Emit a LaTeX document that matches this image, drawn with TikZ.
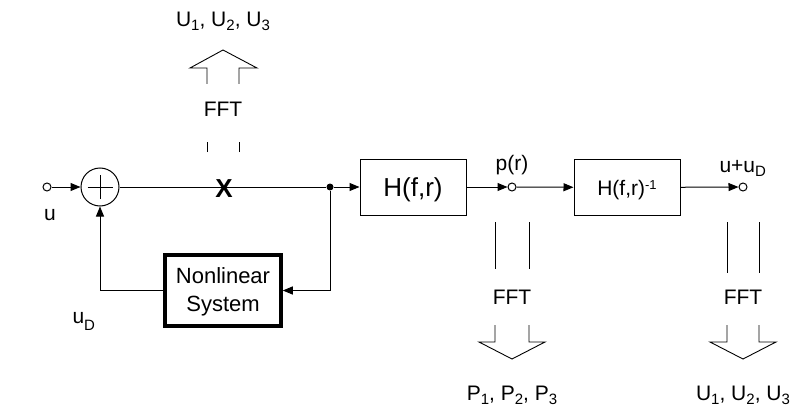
\documentclass[tikz,border=0pt]{standalone}
\usepackage{fontspec}
\setmainfont{Liberation Sans}
\usetikzlibrary{arrows.meta}
\newcommand\lsub[2][5pt]{\raisebox{-#1}{\fontsize{15}{15}\selectfont #2}}
\newcommand\lsup[1]{\raisebox{6pt}{\fontsize{13}{13}\selectfont #1}}
\begin{document}
\begin{tikzpicture}[x=1pt,y=-1pt,
  font=\fontsize{21}{25}\selectfont,
  line width=1pt,
  arr/.style={-{Triangle[length=10pt,width=8pt]}},
  term/.style={circle,draw,fill=white,inner sep=0pt,minimum size=8pt,line width=1pt},
  blk/.style={draw,minimum width=106pt,minimum height=56pt,inner sep=0pt},
  lbl/.style={anchor=base,inner sep=0pt},
  hollow/.style={line width=0.9pt}]
\useasboundingbox (0,0) rectangle (793,412);

% main path nodes
\node[term] (in) at (47,187) {};
\node[circle,draw,minimum size=38pt,inner sep=0pt] (sum) at (100,187) {};
\draw ([xshift=-12.5pt]sum.center) -- ([xshift=12.5pt]sum.center);
\draw ([yshift=-12pt]sum.center) -- ([yshift=12pt]sum.center);
\node[circle,fill,inner sep=0pt,minimum size=7pt] (dot) at (330,187) {};
\node[blk] (h1) at (413,187) {};
\node[lbl,font=\fontsize{26}{30}\selectfont] (h1t) at (413,196) {H(f,r)};
\node[term] (p) at (512,187) {};
\node[blk] (h2) at (627,187.5) {};
\node[lbl,font=\fontsize{21}{25}\selectfont] (h2t) at (627,195) {H(f,r)\lsup{-1}};
\node[term] (out) at (743,187) {};
\node[draw,line width=3.5pt,minimum width=116pt,minimum height=71pt,inner sep=0pt] (nl) at (223,290.5) {};
\node[lbl,font=\fontsize{22}{28}\selectfont] (nlt1) at (223,283) {Nonlinear};
\node[lbl,font=\fontsize{22}{28}\selectfont] (nlt2) at (223,311) {System};

% connectors
\draw[arr] (in) -- (sum);
\draw (sum) -- (dot);
\node[lbl,font=\bfseries\fontsize{26}{30}\selectfont] (x) at (224,197) {X};
\draw[arr] (dot) -- (h1);
\draw[arr] (h1) -- (p);
\draw[arr] (p) -- (h2);
\draw[arr] (h2) -- (out);
\draw[arr] (dot) |- (nl);
\draw[arr] (nl.west) -| (sum.south);

% labels
\node[lbl] (lu) at (50,220) {u};
\node[lbl,anchor=base west] (lud) at (72,323) {u\lsub[7pt]{D}};
\node[lbl] (lp) at (512,170) {p(r)};
\node[lbl,anchor=base west] (luud) at (719,172) {u+u\lsub[4pt]{D}};

% top hollow arrow
\draw[hollow] (207,152) -- (207,142) (239,152) -- (239,142);
\node[lbl] (fft1) at (223,117) {FFT};
\draw[hollow] (207,84) -- (207,68) -- (190,68) -- (223,50) -- (257,68) -- (239,68) -- (239,84);
\node[lbl] (u123a) at (223,27) {U\lsub[4pt]{1}, U\lsub[4pt]{2}, U\lsub[4pt]{3}};

% down hollow arrow at p
\draw[hollow] (495,222) -- (495,269) (529,222) -- (529,269);
\node[lbl] (fft2) at (512,304) {FFT};
\draw[hollow] (495,325) -- (495,342) -- (479,342) -- (512,359) -- (545,342) -- (529,342) -- (529,325);
\node[lbl] (p123) at (512,400) {P\lsub[4pt]{1}, P\lsub[4pt]{2}, P\lsub[4pt]{3}};

% down hollow arrow at output
\draw[hollow] (727,222) -- (727,273) (759,222) -- (759,273);
\node[lbl] (fft3) at (743,304) {FFT};
\draw[hollow] (727,325) -- (727,342) -- (710,342) -- (743,359) -- (776,342) -- (759,342) -- (759,325);
\node[lbl] (u123b) at (743,400) {U\lsub[4pt]{1}, U\lsub[4pt]{2}, U\lsub[4pt]{3}};
\end{tikzpicture}
\end{document}
